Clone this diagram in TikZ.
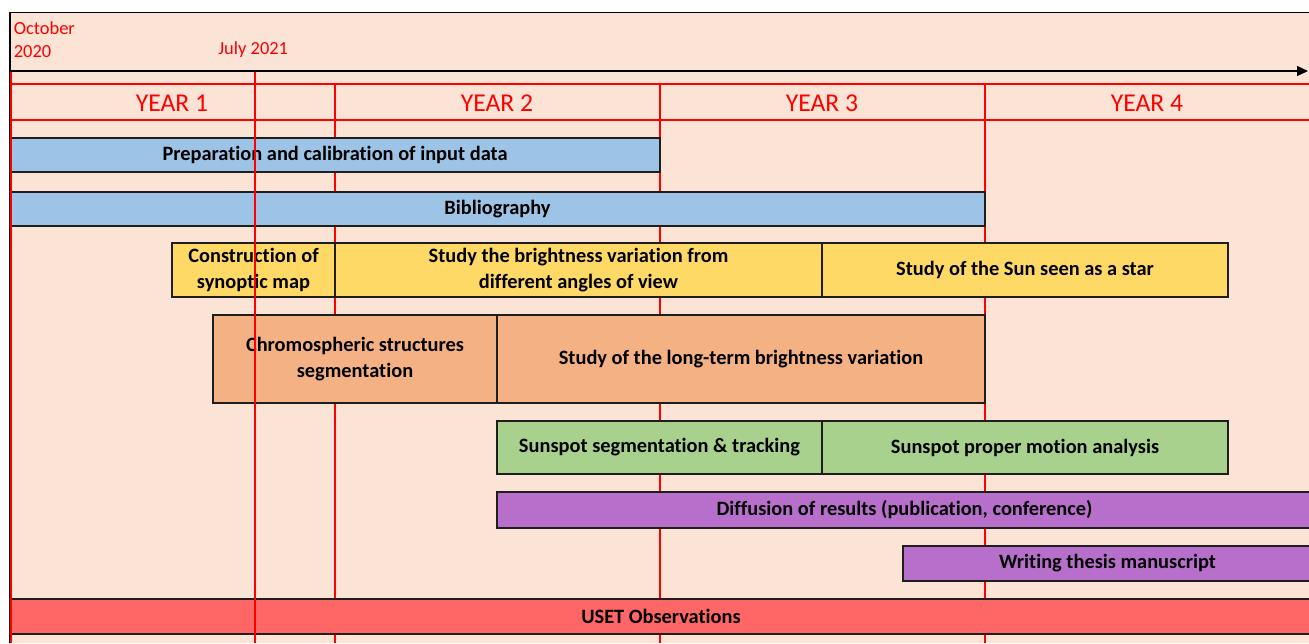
\documentclass[tikz,border=0pt]{standalone}
\usepackage{fontspec}
\setmainfont{Carlito}[Ligatures=NoCommon]
\usetikzlibrary{arrows.meta}
\definecolor{bgF}{HTML}{FBE4D6}
\definecolor{gridC}{HTML}{FF0000}
\definecolor{prepF}{HTML}{9DC3E6}
\definecolor{studyF}{HTML}{FFD966}
\definecolor{chromoF}{HTML}{F4B183}
\definecolor{spotF}{HTML}{A9D18E}
\definecolor{diffF}{HTML}{B86FCC}
\definecolor{usetF}{HTML}{FF6666}
\definecolor{taskD}{HTML}{1E1E1E}
\tikzset{
  task/.style={draw=taskD, line width=0.9pt, anchor=north west, align=center,
               inner sep=0pt, outer sep=0pt, font=\fontsize{11.6}{14.8}\selectfont\bfseries},
  grid/.style={draw=gridC, line width=0.6pt},
  today/.style={draw=gridC, line width=1.7pt},
  yearlab/.style={text=gridC, font=\fontsize{14.6}{17}\selectfont},
  datelab/.style={text=gridC, inner sep=0pt, align=left, font=\fontsize{10.5}{13}\selectfont},
  arr/.style={-{Triangle[length=0.22cm,width=0.2cm]}, draw=black, line width=0.7pt},
}
\begin{document}
\begin{tikzpicture}
\clip (0,0) rectangle (26.18,-12.86);
\fill[bgF] (0.2,-0.25) rectangle (26.18,-12.86);
\draw[line width=0.6pt] (0.2,-12.86) -- (0.2,-0.25) -- (26.18,-0.25);
% year grid
\draw[grid] (0.2,-1.68) -- (26.18,-1.68);
\draw[grid] (0.2,-2.40) -- (26.18,-2.40);
\foreach \x in {6.70,13.20,19.70}
  \draw[grid] (\x,-1.68) -- (\x,-12.86);
\node[yearlab] (y1) at (3.44,-2.06) {YEAR 1};
\node[yearlab] (y2) at (9.94,-2.06) {YEAR 2};
\node[yearlab] (y3) at (16.44,-2.06) {YEAR 3};
\node[yearlab] (y4) at (22.94,-2.06) {YEAR 4};
% tasks
\node[task, fill=prepF, minimum width=13.0cm, minimum height=0.68cm] (prep) at (0.2,-2.76) {Preparation and calibration of input data};
\node[task, fill=prepF, minimum width=19.5cm, minimum height=0.68cm] (biblio) at (0.2,-3.84) {Bibliography};
\node[task, fill=studyF, minimum width=3.26cm, minimum height=1.08cm] (synoptic) at (3.44,-4.86) {Construction of\\synoptic map};
\node[task, fill=studyF, minimum width=9.74cm, minimum height=1.08cm] (angles) at (6.70,-4.86) {Study the brightness variation from\\different angles of view};
\node[task, fill=studyF, minimum width=8.12cm, minimum height=1.08cm] (sunstar) at (16.44,-4.86) {Study of the Sun seen as a star};
\node[task, fill=chromoF, minimum width=5.68cm, minimum height=1.76cm] (chromo) at (4.26,-6.30) {Chromospheric structures\\segmentation};
\node[task, fill=chromoF, minimum width=9.76cm, minimum height=1.76cm] (longterm) at (9.94,-6.30) {Study of the long-term brightness variation};
\node[task, fill=spotF, minimum width=6.50cm, minimum height=1.06cm] (spotseg) at (9.94,-8.42) {Sunspot segmentation \& tracking};
\node[task, fill=spotF, minimum width=8.12cm, minimum height=1.06cm] (spotmot) at (16.44,-8.42) {Sunspot proper motion analysis};
\node[task, fill=diffF, minimum width=16.30cm, minimum height=0.72cm] (diffusion) at (9.94,-9.84) {Diffusion of results (publication, conference)};
\node[task, fill=diffF, minimum width=8.18cm, minimum height=0.70cm] (thesis) at (18.06,-10.92) {Writing thesis manuscript};
\node[task, fill=usetF, minimum width=26.04cm, minimum height=0.70cm] (uset) at (0.2,-11.98) {USET Observations};
% time axis
\draw[today] (0.22,-1.42) -- (0.22,-12.86);
\draw[today] (5.10,-1.42) -- (5.10,-12.86);
\coordinate (tstart) at (0.2,-1.42);
\coordinate (tend) at (26.16,-1.42);
\draw[arr] (tstart) -- (tend);
\node[datelab, anchor=north west] (oct) at (0.27,-0.43) {October\\2020};
\node[datelab, anchor=base west] (jul) at (4.36,-1.09) {July 2021};
\end{tikzpicture}
\end{document}
